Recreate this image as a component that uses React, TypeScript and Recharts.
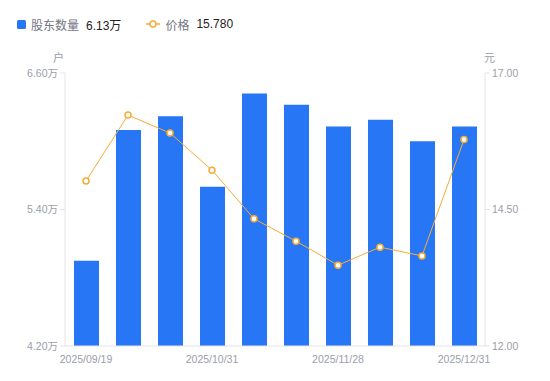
import { Bar, ComposedChart, Line, XAxis, YAxis } from "recharts";

const dates = [
  "2025/09/19",
  "2025/09/30",
  "2025/10/20",
  "2025/10/31",
  "2025/11/10",
  "2025/11/20",
  "2025/11/28",
  "2025/12/10",
  "2025/12/19",
  "2025/12/31",
];
const holders = [4.95, 6.1, 6.22, 5.6, 6.42, 6.32, 6.13, 6.19, 6.0, 6.13];
const prices = [15.02, 16.23, 15.9, 15.22, 14.33, 13.92, 13.48, 13.81, 13.65, 15.78];
const leftTicks = [4.2, 5.4, 6.6];
const rightTicks = [12, 14.5, 17];

const BLUE = "#2776f6";
const ORANGE = "#f7ac35";
const AXIS = "#e3e4e8";
const TICK_TEXT = "#9b9dab";
const FONT = '"Liberation Sans", Arial, "Noto Sans CJK SC", sans-serif';

const chartData = dates.map((date, i) => ({
  date,
  holders: holders[i],
  price: prices[i],
}));

const tickStyle = { fill: TICK_TEXT, fontSize: 10.5, fontFamily: FONT };

export default function App() {
  return (
    <div
      style={{
        position: "absolute",
        left: 0,
        top: 0,
        width: 550,
        height: 381,
        background: "#fff",
        fontFamily: FONT,
      }}
    >
      <div
        style={{
          position: "absolute",
          top: 16,
          left: 17,
          display: "flex",
          alignItems: "center",
          fontSize: 12,
          height: 16,
        }}
      >
        <span style={{ width: 9, height: 9, background: BLUE, borderRadius: 1.5, marginRight: 5 }} />
        <span style={{ color: "#737583" }}>股东数量</span>
        <span style={{ color: "#222", marginLeft: 7 }}>6.13万</span>
        <svg width={14} height={10} style={{ marginLeft: 25, marginRight: 5 }}>
          <line x1={0} y1={5} x2={14} y2={5} stroke={ORANGE} strokeWidth={1.5} />
          <circle cx={7} cy={5} r={3} fill="#fff" stroke={ORANGE} strokeWidth={1.5} />
        </svg>
        <span style={{ color: "#737583" }}>价格</span>
        <span style={{ color: "#222", marginLeft: 7 }}>15.780</span>
      </div>
      <div style={{ position: "absolute", left: 53, top: 49, fontSize: 11, color: TICK_TEXT }}>户</div>
      <div style={{ position: "absolute", left: 484, top: 49, fontSize: 11, color: TICK_TEXT }}>元</div>
      <ComposedChart
        width={550}
        height={381}
        data={chartData}
        margin={{ top: 73, right: 0, bottom: 0, left: 0 }}
        barSize={25}
      >
        <XAxis
          dataKey="date"
          height={35}
          interval={2}
          tick={tickStyle}
          tickLine={false}
          axisLine={{ stroke: AXIS }}
          tickMargin={4}
        />
        <YAxis
          yAxisId="left"
          width={65}
          domain={[4.2, 6.6]}
          ticks={leftTicks}
          tick={tickStyle}
          tickFormatter={(v: number) => `${v.toFixed(2)}万`}
          axisLine={{ stroke: AXIS }}
          tickLine={{ stroke: AXIS }}
          tickSize={5}
          tickMargin={2}
        />
        <YAxis
          yAxisId="right"
          orientation="right"
          width={65}
          domain={[12, 17]}
          ticks={rightTicks}
          tick={tickStyle}
          tickFormatter={(v: number) => v.toFixed(2)}
          axisLine={{ stroke: AXIS }}
          tickLine={{ stroke: AXIS }}
          tickSize={5}
          tickMargin={2}
        />
        <Bar yAxisId="left" dataKey="holders" fill={BLUE} isAnimationActive={false} />
        <Line
          yAxisId="right"
          dataKey="price"
          type="linear"
          stroke={ORANGE}
          strokeWidth={1}
          dot={{ r: 3, fill: "#fff", stroke: ORANGE, strokeWidth: 1.5 }}
          isAnimationActive={false}
        />
      </ComposedChart>
    </div>
  );
}
